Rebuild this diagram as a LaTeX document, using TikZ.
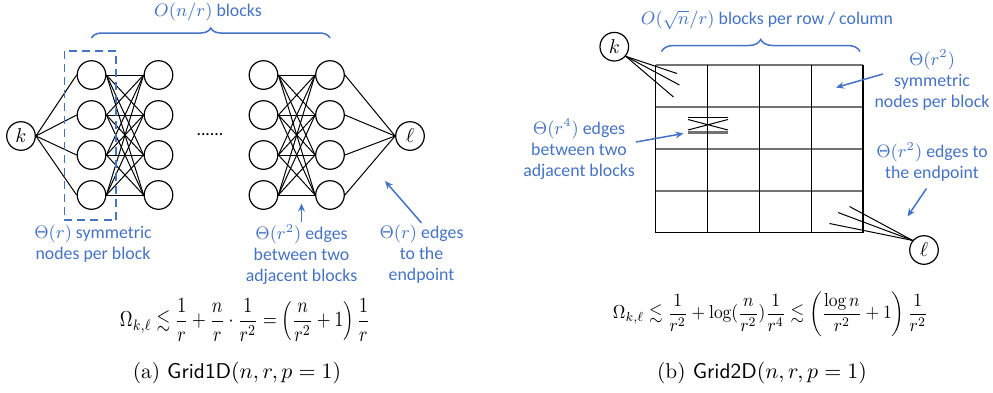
\documentclass[tikz,border=0pt]{standalone}
\usepackage{amsmath,amssymb}
\usepackage{graphicx}
\usepackage{fontspec}
\newfontfamily\notefont{Carlito}
\usepackage{xcolor}
\usepackage{tikz}
\usetikzlibrary{arrows.meta,decorations.pathreplacing,positioning}
\definecolor{noteblue}{RGB}{68,114,196}

\begin{document}
\begin{tikzpicture}[
    x=0.5pt, y=-0.5pt,
    vtx/.style={draw, circle, minimum size=14.3pt, inner sep=0pt, line width=0.6pt},
    edge/.style={line width=0.5pt},
    note/.style={text=noteblue, font=\notefont\fontsize{8.9}{10.5}\selectfont, align=center, inner sep=1pt},
    pointer/.style={-{Stealth[length=4pt,width=3.4pt]}, draw=noteblue, line width=0.75pt},
    blockbox/.style={draw=noteblue, dash pattern=on 4pt off 2.5pt, line width=0.75pt},
    cbrace/.style={decorate, decoration={brace, amplitude=#1}, draw=noteblue, line width=0.75pt},
    gridh/.style={draw=black!55, line width=1pt},
    gridv/.style={draw=black, line width=0.6pt},
    formula/.style={inner sep=0pt}
]
    \useasboundingbox (0,0) rectangle (993,392);

    % (a) Grid1D
    \node[vtx] (k1) at (21,136) {$k$};
    \foreach \i/\y in {1/75,2/115,3/155,4/195} {
        \node[vtx] (a\i) at (91.5,\y) {};
        \node[vtx] (b\i) at (158.5,\y) {};
        \node[vtx] (c\i) at (263.5,\y) {};
        \node[vtx] (d\i) at (330,\y) {};
    }
    \node[vtx] (l1) at (410,136) {$\ell$};
    \node[inner sep=0pt] (dots) at (210,135) {\notefont\fontsize{8.9}{10}\selectfont ......};

    \foreach \i in {1,...,4} {
        \draw[edge] (k1.east) -- (a\i.west);
        \draw[edge] (d\i.east) -- (l1.west);
        \foreach \j in {1,...,4} {
            \draw[edge] (a\i.east) -- (b\j.west);
            \draw[edge] (c\i.east) -- (d\j.west);
        }
    }

    \draw[blockbox] (64.5,51) rectangle (116,220);
    \draw[cbrace=5pt] (91.5,38) -- (330,38);
    \node[note] (blocks1) at (208,12) {$O(n/r)$ blocks};

    \node[note] (sym1) at (93,243.5) {$\Theta(r)$ symmetric\\nodes per block};
    \node[note] (adj1) at (301.5,254.5) {$\Theta(r^2)$ edges\\between two\\adjacent blocks};
    \node[note] (end1) at (421.5,254.5) {$\Theta(r)$ edges\\to the\\endpoint};
    \coordinate (adjtip1) at (301.5,203.5);
    \coordinate (endtip1) at (385,181);
    \draw[pointer] (adj1.north) -- (adjtip1);
    \draw[pointer] (end1.north) -- (endtip1);

    \node[formula] (eq1) at (245,320) {\resizebox*{125pt}{21.7pt}{$\displaystyle \Omega_{k,\ell} \lesssim \frac{1}{r} + \frac{n}{r}\cdot\frac{1}{r^2} = \left(\frac{n}{r^2}+1\right)\frac{1}{r}$}};
    \node[formula] (cap1) at (237,373) {\fontsize{10.7}{12}\selectfont (a) \textsf{Grid1D}$(n, r, p = 1)$};

    % (b) Grid2D
    \foreach \y in {64.5,106.5,149,191}
        \draw[gridh] (655.5,\y) -- (863,\y);
    \draw[gridv] (655.5,232.5) -- (863,232.5);
    \draw[edge] (688,117.5) -- (728,117.5);
    \draw[edge] (688,119.5) -- (728,130) (688,130) -- (728,119.5);
    \draw[draw=black!55, line width=1.3pt] (688,132.5) -- (728,132.5);
    \foreach \x in {655.5,707.5,759.5,811.5,863}
        \draw[gridv] (\x,64.5) -- (\x,232.5);

    \node[vtx] (k2) at (614.3,46.7) {$k$};
    \node[vtx] (l2) at (924,250) {$\ell$};
    \coordinate (kt1) at (677,73.5);
    \coordinate (kt2) at (679.5,85);
    \coordinate (kt3) at (673.5,97);
    \coordinate (lt1) at (849.5,206.5);
    \coordinate (lt2) at (838,212.5);
    \coordinate (lt3) at (829.5,223.5);
    \foreach \t in {1,2,3} {
        \draw[edge] (k2.-40) -- (kt\t);
        \draw[edge] (l2.140) -- (lt\t);
    }

    \draw[cbrace=6pt] (661.5,51.5) -- (860,51.5);
    \node[note] (blocks2) at (767,20) {$O(\sqrt{n}/r)$ blocks per row / column};
    \node[note] (sym2) at (932,80) {$\Theta(r^2)$\\symmetric\\nodes per block};
    \node[note] (adj2) at (579,149) {$\Theta(r^4)$ edges\\between two\\adjacent blocks};
    \node[note] (end2) at (932,162) {$\Theta(r^2)$ edges to\\the endpoint};
    \coordinate (symfrom) at (883,74);
    \coordinate (symtip) at (836,87.5);
    \coordinate (adjfrom) at (636,142);
    \coordinate (adjtip2) at (683.5,133.5);
    \coordinate (endfrom) at (926.5,188.5);
    \coordinate (endtip2) at (907.5,216.5);
    \draw[pointer] (symfrom) -- (symtip);
    \draw[pointer] (adjfrom) -- (adjtip2);
    \draw[pointer] (endfrom) -- (endtip2);

    \node[formula] (eq2) at (770.5,314) {\resizebox*{157.5pt}{22.5pt}{$\displaystyle \Omega_{k,\ell} \lesssim \frac{1}{r^2} + \log(\frac{n}{r^2})\frac{1}{r^4} \lesssim \left(\frac{\log n}{r^2}+1\right)\frac{1}{r^2}$}};
    \node[formula] (cap2) at (762,373) {\fontsize{10.7}{12}\selectfont (b) \textsf{Grid2D}$(n, r, p = 1)$};
\end{tikzpicture}
\end{document}
